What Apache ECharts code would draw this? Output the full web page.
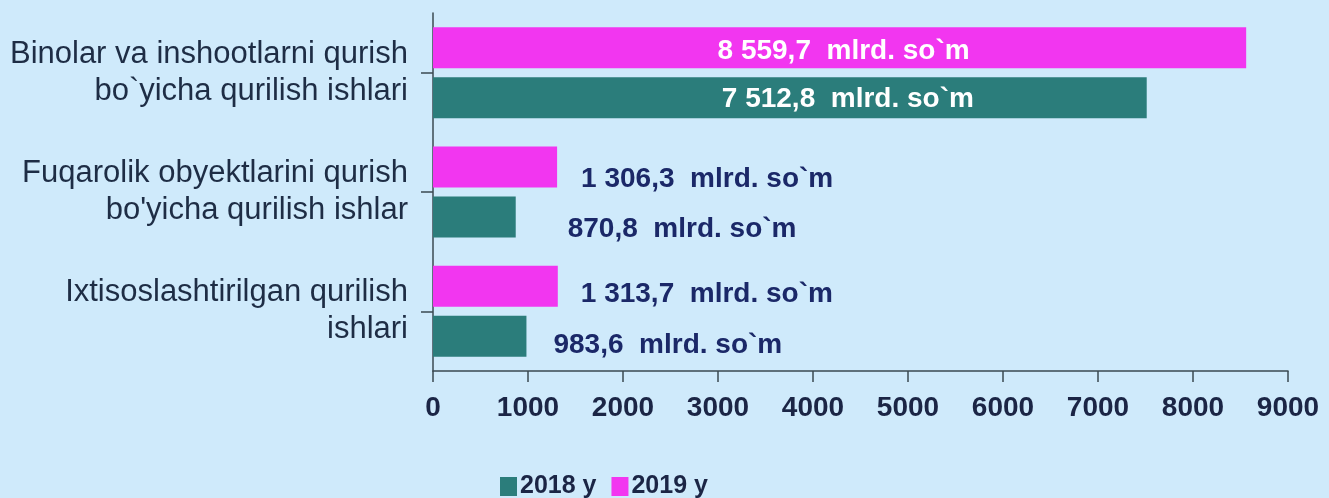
<!DOCTYPE html>
<html>
<head>
<meta charset="UTF-8">
<title>Qurilish ishlari</title>
<style>
  html, body { margin: 0; padding: 0; background: #cfeafb; }
  #chart { width: 1329px; height: 498px; }
</style>
<script src="https://cdn.jsdelivr.net/npm/echarts@6/dist/echarts.min.js"></script>
</head>
<body>
<div id="chart"></div>
<script>
// categories listed bottom-up (category axis starts at the bottom)
var categories = [
  'Ixtisoslashtirilgan qurilish\nishlari',
  "Fuqarolik obyektlarini qurish\nbo'yicha qurilish ishlar",
  'Binolar va inshootlarni qurish\nbo`yicha qurilish ishlari'
];
var seriesNames = ['2018 y', '2019 y'];
var values2018 = [983.6, 870.8, 7512.8];
var values2019 = [1313.7, 1306.3, 8559.7];
var unit = '  mlrd. so`m';

var font = "'Liberation Sans', Arial, sans-serif";

function fmt(v) {
  var s = v.toFixed(1).split('.');
  var int = s[0].replace(/\B(?=(\d{3})+(?!\d))/g, ' ');
  return int + ',' + s[1] + unit;
}

// label placement per bar (bottom-up, same order as categories)
var labelCfg2018 = [
  { position: 'right', distance: 27, offset: [0, 9] },
  { position: 'right', distance: 52, offset: [0, 12] },
  { position: 'inside', offset: [58, 2], color: '#ffffff' }
];
var labelCfg2019 = [
  { position: 'right', distance: 23, offset: [0, 8] },
  { position: 'right', distance: 24, offset: [0, 12] },
  { position: 'inside', offset: [4, 4], color: '#ffffff' }
];

function build(vals, cfg) {
  return vals.map(function (v, i) {
    return { value: v, label: cfg[i] };
  });
}

var valueLabel = {
  show: true,
  fontFamily: font,
  fontWeight: 'bold',
  fontSize: 28,
  color: '#1b2868',
  formatter: function (p) { return fmt(p.value); }
};

var chart = echarts.init(document.getElementById('chart'));
chart.setOption({
  backgroundColor: '#cfeafb',
  animation: false,
  grid: { left: 433, right: 41, top: 13, bottom: 127 },
  legend: {
    data: seriesNames,
    left: 495,
    top: 469,
    itemWidth: 17,
    itemHeight: 19,
    itemGap: 15,
    icon: 'rect',
    textStyle: { fontFamily: font, fontWeight: 'bold', fontSize: 25, color: '#1b2545', padding: [0, 0, 0, -2] }
  },
  xAxis: {
    type: 'value',
    min: 0,
    max: 9000,
    interval: 1000,
    splitLine: { show: false },
    axisLine: { show: true, lineStyle: { color: '#3b4a52', width: 1.5 } },
    axisTick: { show: true, length: 11, lineStyle: { color: '#3b4a52', width: 1.5 } },
    axisLabel: {
      margin: 23, fontFamily: font, fontWeight: 'bold', fontSize: 28, color: '#1b2545',
      formatter: function (v) { return String(v); }
    }
  },
  yAxis: {
    type: 'category',
    data: categories,
    axisLine: { show: true, lineStyle: { color: '#3b4a52', width: 1.5 } },
    axisTick: { show: true, alignWithLabel: true, length: 12, lineStyle: { color: '#3b4a52', width: 1.5 } },
    axisLabel: { margin: 25, fontFamily: font, fontSize: 31, lineHeight: 37, color: '#1e2d45', align: 'right' }
  },
  // 2019 first so it sits on top inside each category
  series: [
    {
      name: seriesNames[1],
      type: 'bar',
      barWidth: 41,
      barGap: '22%',
      itemStyle: { color: '#f236f0' },
      label: valueLabel,
      data: build(values2019, labelCfg2019)
    },
    {
      name: seriesNames[0],
      type: 'bar',
      barWidth: 41,
      barGap: '22%',
      itemStyle: { color: '#2b7d7b' },
      label: valueLabel,
      data: build(values2018, labelCfg2018)
    }
  ]
});
</script>
</body>
</html>
